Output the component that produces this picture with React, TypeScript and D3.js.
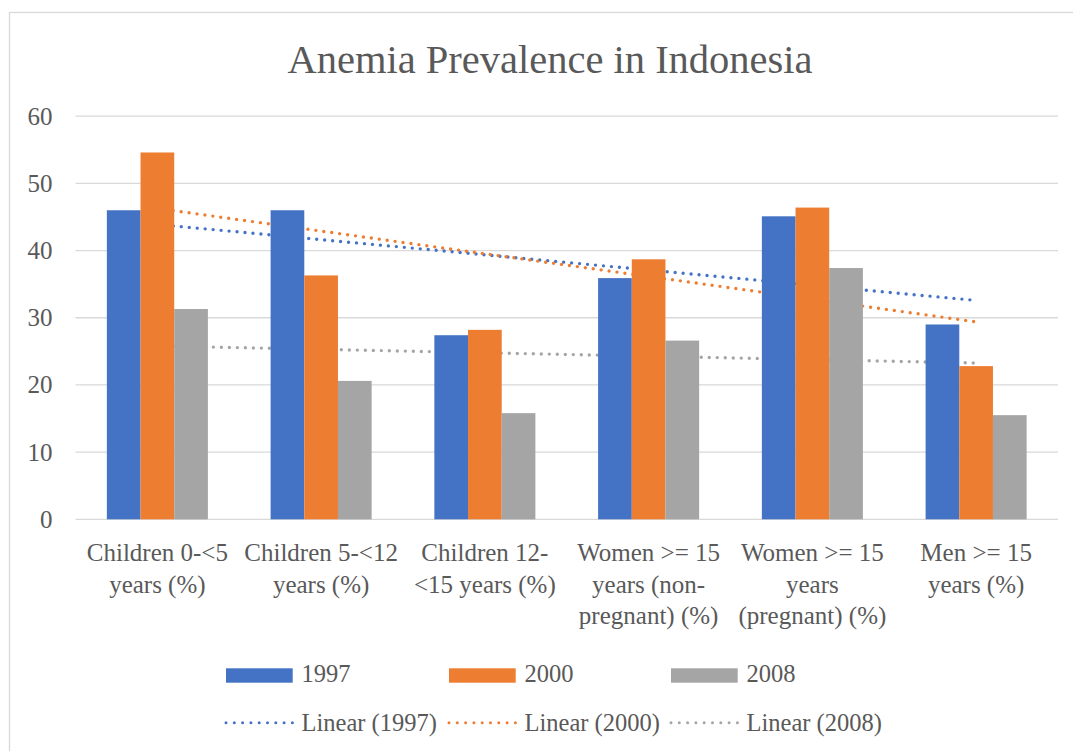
import React, { useEffect, useRef } from 'react';
import * as d3 from 'd3';

const categories = [
  ['Children 0-<5', 'years (%)'],
  ['Children 5-<12', 'years (%)'],
  ['Children 12-', '<15 years (%)'],
  ['Women >= 15', 'years (non-', 'pregnant) (%)'],
  ['Women >= 15', 'years', '(pregnant) (%)'],
  ['Men >= 15', 'years (%)'],
];
const seriesNames = ['1997', '2000', '2008'];
const values1997 = [46.0, 46.0, 27.4, 35.9, 45.1, 29.0];
const values2000 = [54.6, 36.3, 28.2, 38.7, 46.4, 22.8];
const values2008 = [31.3, 20.6, 15.8, 26.6, 37.4, 15.5];
const yTicks = [0, 10, 20, 30, 40, 50, 60];

const colors = ['#4472C4', '#ED7D31', '#A5A5A5'];
const FONT = '"Liberation Serif", serif';
const TEXT = '#595959';

// least squares fit over category index, like Excel's linear trendline
function linearFit(vals: number[]) {
  const xs = vals.map((_, i) => i + 1);
  const mx = d3.mean(xs)!;
  const my = d3.mean(vals)!;
  let sxy = 0, sxx = 0;
  xs.forEach((x, i) => { sxy += (x - mx) * (vals[i] - my); sxx += (x - mx) ** 2; });
  const b = sxy / sxx;
  return (x: number) => my + b * (x - mx);
}

function Chart() {
  const ref = useRef<SVGSVGElement>(null);

  useEffect(() => {
    const svg = d3.select(ref.current);
    svg.selectAll('*').remove();

    const series = [values1997, values2000, values2008];
    const keys = categories.map((c) => c.join(' '));

    const x0 = d3.scaleBand().domain(keys).range([75.5, 1058]);
    const groupW = x0.bandwidth() * 0.617;
    const x1 = d3.scaleBand().domain(seriesNames).range([0, groupW]);
    const y = d3.scaleLinear().domain([0, 60]).range([519.3, 116.2]);

    // outer border
    svg.append('rect')
      .attr('x', 9.5).attr('y', 12.5).attr('width', 1120).attr('height', 800)
      .attr('fill', '#fff').attr('stroke', '#d9d9d9').attr('stroke-width', 1.3);

    svg.append('text')
      .attr('x', 550).attr('y', 73)
      .attr('text-anchor', 'middle')
      .attr('font-family', FONT).attr('font-size', 40.5).attr('fill', TEXT)
      .text('Anemia Prevalence in Indonesia');

    // gridlines + y labels
    const grid = svg.append('g');
    grid.selectAll('line').data(yTicks).join('line')
      .attr('x1', 75.5).attr('x2', 1058)
      .attr('y1', (d) => y(d)).attr('y2', (d) => y(d))
      .attr('stroke', '#d9d9d9').attr('stroke-width', 1.3);
    grid.selectAll('text').data(yTicks).join('text')
      .attr('x', 52.5).attr('y', (d) => y(d) + 8.5)
      .attr('text-anchor', 'end')
      .attr('font-family', FONT).attr('font-size', 25).attr('fill', TEXT)
      .text((d) => d);

    // trendlines (behind the bars)
    const center = (i: number) => x0(keys[i])! + x0.bandwidth() / 2;
    series.forEach((vals, s) => {
      const f = linearFit(vals);
      svg.append('line')
        .attr('x1', center(0)).attr('y1', y(f(1)))
        .attr('x2', center(vals.length - 1)).attr('y2', y(f(vals.length)))
        .attr('stroke', colors[s]).attr('stroke-width', 3.4)
        .attr('stroke-linecap', 'round').attr('stroke-dasharray', '0 8');
    });

    // bars
    series.forEach((vals, s) => {
      svg.append('g').selectAll('rect').data(vals).join('rect')
        .attr('x', (_, i) => x0(keys[i])! + (x0.bandwidth() - groupW) / 2 + x1(seriesNames[s])!)
        .attr('y', (d) => y(d))
        .attr('width', x1.bandwidth())
        .attr('height', (d) => y(0) - y(d))
        .attr('fill', colors[s]);
    });

    // category labels
    categories.forEach((lines, i) => {
      const t = svg.append('text')
        .attr('text-anchor', 'middle')
        .attr('font-family', FONT).attr('font-size', 25).attr('fill', TEXT);
      lines.forEach((ln, j) => {
        t.append('tspan').attr('x', center(i)).attr('y', 561 + j * 31.5).text(ln);
      });
    });

    // legend
    const legX = [226, 449, 671];
    seriesNames.forEach((name, s) => {
      svg.append('rect')
        .attr('x', legX[s]).attr('y', 668.3).attr('width', 66.7).attr('height', 14.4)
        .attr('fill', colors[s]);
      svg.append('text')
        .attr('x', legX[s] + 75.5).attr('y', 681.7)
        .attr('font-family', FONT).attr('font-size', 24.5).attr('fill', TEXT)
        .text(name);
      svg.append('line')
        .attr('x1', legX[s]).attr('x2', legX[s] + 66.7)
        .attr('y1', 722.7).attr('y2', 722.7)
        .attr('stroke', colors[s]).attr('stroke-width', 3)
        .attr('stroke-linecap', 'round').attr('stroke-dasharray', '0 8.3');
      svg.append('text')
        .attr('x', legX[s] + 75.5).attr('y', 730.5)
        .attr('font-family', FONT).attr('font-size', 24.5).attr('fill', TEXT)
        .text(`Linear (${name})`);
    });
  }, []);

  return (
    <svg
      ref={ref}
      width={1073}
      height={751}
      style={{ position: 'absolute', left: 0, top: 0, background: '#fff' }}
    />
  );
}

export default function App() {
  return <Chart />;
}
